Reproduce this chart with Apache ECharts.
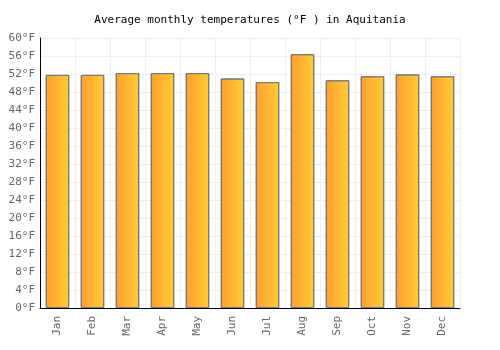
<!DOCTYPE html>
<html>
<head>
<meta charset="utf-8">
<script src="https://cdn.jsdelivr.net/npm/echarts@6/dist/echarts.min.js"></script>
<style>
  html, body { margin: 0; padding: 0; background: #fff; }
  #chart { width: 500px; height: 350px; }
</style>
</head>
<body>
<div id="chart"></div>
<script>
const months = ['Jan', 'Feb', 'Mar', 'Apr', 'May', 'Jun', 'Jul', 'Aug', 'Sep', 'Oct', 'Nov', 'Dec'];
const temps = [51.8, 51.8, 52.2, 52.2, 52.2, 51.0, 50.2, 56.4, 50.6, 51.5, 51.9, 51.5];

const chart = echarts.init(document.getElementById('chart'));
const font = '"DejaVu Sans Mono", monospace';

chart.setOption({
  backgroundColor: '#fff',
  title: {
    text: 'Average monthly temperatures (°F ) in Aquitania',
    left: 'center',
    top: 10,
    textStyle: { fontFamily: font, fontSize: 11, fontWeight: 'normal', color: '#000' },
  },
  grid: { left: 40, right: 40, top: 38, bottom: 42 },
  xAxis: {
    type: 'category',
    data: months,
    axisLine: { lineStyle: { color: '#000', width: 1 } },
    axisTick: { show: false },
    splitLine: { show: true, lineStyle: { color: '#eee' } },
    axisLabel: { rotate: 90, color: '#666', fontFamily: font, fontSize: 11, margin: 8 },
  },
  yAxis: {
    type: 'value',
    min: 0,
    max: 60,
    interval: 4,
    axisLine: { show: true, lineStyle: { color: '#000', width: 1 } },
    axisTick: { show: false },
    splitLine: { lineStyle: { color: '#eee' } },
    axisLabel: { color: '#666', fontFamily: font, fontSize: 11, margin: 5, formatter: '{value}°F' },
  },
  series: [{
    type: 'bar',
    data: temps,
    barWidth: '67%',
    itemStyle: {
      borderColor: '#777',
      borderWidth: 1,
      color: new echarts.graphic.LinearGradient(0, 0, 1, 0, [
        { offset: 0, color: '#ff9e30' },
        { offset: 1, color: '#ffcc33' },
      ]),
    },
  }],
});
</script>
</body>
</html>
